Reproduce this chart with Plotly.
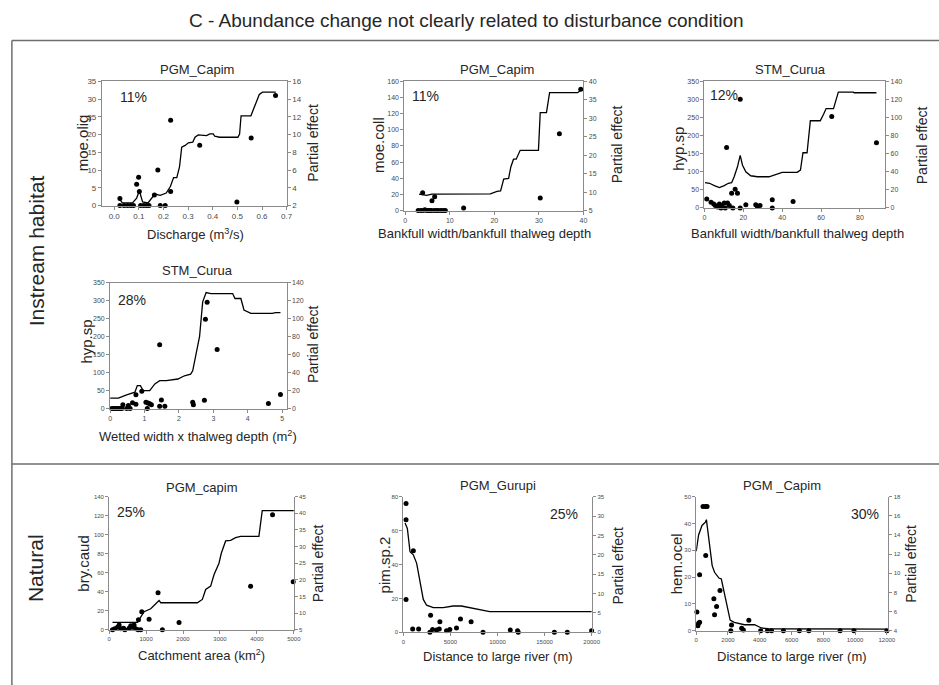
import plotly.graph_objects as go

W, H = 939, 685
FONT = "Liberation Sans, Arial, sans-serif"

# ---------------- data ----------------
# Panel 1: PGM_Capim, moe.olig vs discharge
p1_obs_x = [0.023, 0.023, 0.04, 0.054, 0.067, 0.078, 0.091, 0.099, 0.102, 0.107, 0.12, 0.131,
            0.141, 0.163, 0.177, 0.187, 0.207, 0.229, 0.229, 0.347, 0.498, 0.556, 0.655]
p1_obs_y = [2, 0, 0, 0, 0, 0, 6, 8, 4, 0, 0, 0, 0, 3, 10, 0, 0, 24, 4, 17, 1, 19, 31]
p1_pe_x = [0.023, 0.033, 0.074, 0.091, 0.102, 0.115, 0.137, 0.154, 0.165, 0.187, 0.211, 0.228,
           0.241, 0.254, 0.265, 0.274, 0.288, 0.301, 0.319, 0.328, 0.341, 0.375, 0.388, 0.402,
           0.408, 0.428, 0.502, 0.509, 0.515, 0.555, 0.576, 0.589, 0.602, 0.656]
p1_pe_y = [2.67, 2.30, 2.30, 2.85, 3.67, 2.41, 2.30, 2.85, 3.30, 3.15, 3.41, 4.15,
           5.15, 5.15, 6.37, 8.59, 8.78, 9.07, 9.15, 9.70, 9.96, 9.89, 10.07, 10.07,
           9.81, 9.70, 9.70, 10.07, 12.11, 12.11, 13.59, 14.52, 14.78, 14.78]

# Panel 2: PGM_Capim, moe.coll vs bankfull ratio
p2_obs_x = [3.9, 2.9, 3.5, 4.0, 4.4, 4.8, 5.2, 5.5, 5.9, 6.5, 7.0, 7.4, 8.0, 8.5, 9.0,
            6.0, 6.6, 13.1, 30.3, 34.6, 39.4]
p2_obs_y = [22, 0, 0, 0, 1, 0, 0, 0, 0, 0, 0, 0, 0, 0, 0,
            12, 17, 3, 15.5, 95, 150]
p2_pe_x = [3.1, 4.8, 6.0, 11.0, 19.1, 20.6, 21.4, 22.1, 23.2, 23.7, 24.3, 24.9, 25.8,
           29.9, 30.3, 31.7, 32.4, 38.7, 39.4]
p2_pe_y = [9.45, 9.1, 9.45, 9.5, 9.5, 10.2, 10.3, 13.5, 13.7, 16.8, 18.9, 18.9, 21.3,
           21.3, 31.5, 31.5, 36.9, 36.9, 37.6]

# Panel 3: STM_Curua, hyp.sp vs bankfull ratio
p3_obs_x = [1.2, 3.4, 4.8, 5.6, 6.8, 7.7, 8.5, 9.0, 10.2, 10.7, 11.9, 12.8, 14.0, 14.6,
            15.8, 17.0, 18.4, 21.3, 26.4, 27.2, 28.6, 34.9, 34.9, 45.6, 11.4, 18.4, 65.5, 88.5]
p3_obs_y = [24.5, 16, 11, 7, 3, 11, 0, 7, 14, 0, 14, 7, 41, 0,
            52, 41, 0, 9, 9, 4.5, 7, 23, 0, 18, 167, 300, 253, 180]
p3_pe_x = [0.3, 2.6, 5.1, 7.7, 10.2, 12.3, 14.0, 15.3, 17.0, 18.4, 19.6, 21.3, 23.8, 27.2,
           33.2, 35.7, 40.0, 47.7, 49.4, 50.7, 52.8, 54.5, 59.6, 61.3, 62.6, 66.4, 68.9,
           76.6, 77.1, 88.5]
p3_pe_y = [28, 27.3, 24.7, 22.5, 24.7, 27.3, 28, 34.5, 45.5, 58.2, 47.3, 40, 35.6, 34.5,
           34.5, 36.4, 39.3, 39.3, 41.8, 61, 61, 96.4, 96.4, 103.6, 109.8, 109.8, 128,
           128, 127.3, 127.3]

# Panel 4: STM_Curua, hyp.sp vs wetted width x thalweg depth
p4_obs_x = [0.05, 0.1, 0.15, 0.2, 0.25, 0.3, 0.34, 0.37, 0.48, 0.53, 0.58, 0.65, 0.75, 0.75,
            0.92, 1.04, 1.08, 1.1, 1.15, 1.2, 1.44, 1.49, 1.44, 1.59, 2.40, 2.42, 2.74,
            2.77, 2.82, 3.11, 4.6, 4.95]
p4_obs_y = [0, 0, 0, 0, 0, 0, 0, 11, 0, 9, 0, 16.5, 12, 38.5,
            48.5, 18, 0, 15.6, 13.7, 11, 6.4, 23.8, 178, 6.4, 18, 11, 23,
            249, 296, 165, 14.6, 39.4]
p4_pe_x = [0, 0.24, 0.48, 0.72, 0.79, 0.88, 0.96, 1.15, 1.3, 1.44, 1.63, 1.97, 2.16, 2.34,
           2.40, 2.6, 2.69, 2.79, 2.93, 3.56, 3.63, 3.80, 3.89, 4.09, 4.71, 4.81, 4.95]
p4_pe_y = [11.7, 11.7, 15.4, 18.3, 25.6, 25.6, 20.1, 20.1, 27.5, 31.1, 31.1, 33, 36.6, 38.5,
           42.1, 80.6, 119, 129.3, 128.2, 128.2, 122.7, 122.7, 109.9, 106.2, 106.2, 107, 107]

# Panel 5: PGM_capim, bry.caud vs catchment area
p5_obs_x = [90, 150, 225, 270, 315, 390, 425, 540, 585, 630, 675, 720, 785, 855,
            793, 883, 1081, 1324, 1441, 1892, 3829, 4423, 4982]
p5_obs_y = [0, 1, 2.5, 5, 1, 1.5, 0, 1.5, 4, 2.5, 5, 1, 0, 0,
            10.4, 19, 11, 38.8, 0, 7.6, 45.7, 121, 50.6]
p5_pe_x = [90, 766, 811, 946, 1126, 1261, 1351, 1396, 1757, 2387, 2523, 2613, 2748, 2838,
           2973, 3036, 3153, 3288, 3423, 3559, 4054, 4144, 5000]
p5_pe_y = [7.2, 7.2, 8.0, 10.4, 11.3, 12.9, 13.8, 13.1, 13.1, 13.1, 14.1, 17.1, 18.1, 21.5,
           25, 28, 31.7, 31.9, 32.7, 33.1, 33.1, 40.8, 40.8]

# Panel 6: PGM_Gurupi, pim.sp.2 vs distance to large river
p6_obs_x = [282, 282, 282, 1057, 987, 1621, 2890, 2820, 3100, 3525, 3807, 3877, 4582, 4935,
            5640, 6063, 7190, 8460, 11350, 12130, 12200, 16040, 17410, 19990]
p6_obs_y = [76, 66.4, 19.4, 48.2, 1.9, 1.9, 10.1, 0, 1.6, 1.4, 1.9, 6.2, 1, 1.6,
            2.5, 7.8, 6.2, 0, 1.4, 1, 0, 0, 0, 1]
p6_pe_x = [176, 423, 705, 1057, 1410, 1762, 2115, 2467, 3172, 4230, 5287, 6168, 7050, 8107,
           9165, 10930, 19990]
p6_pe_y = [28.2, 26.8, 20.8, 20, 17.8, 12.7, 8.5, 7, 6.4, 6.4, 6.8, 6.8, 6.4, 5.8,
           5.35, 5.35, 5.35]

# Panel 7: PGM _Capim, hem.ocel vs distance to large river
p7_obs_x = [43, 107, 150, 213, 213, 427, 577, 683, 598, 1110, 1153, 1281, 1495, 2221, 2178,
            2861, 2968, 3310, 4057, 4484, 4740, 5488, 6492, 7090, 9054, 9929, 12000]
p7_obs_y = [7, 1.8, 2.8, 3.1, 20.9, 46.4, 46.4, 46.4, 28.1, 11.9, 5.9, 9, 15, 2.1, 0,
            0.9, 0.2, 3.9, 0, 0, 0, 0, 0, 0, 0, 0, 0]
p7_pe_x = [0, 150, 363, 577, 641, 790, 1004, 1153, 1431, 1580, 1751, 1965, 2135, 2392,
           3032, 3673, 4100, 4527, 7303, 12000]
p7_pe_y = [12.3, 14, 15, 15.35, 15.6, 13.8, 10.8, 10.1, 9.5, 9.4, 8.1, 6.2, 5.1, 4.86,
           4.62, 4.62, 4.28, 4.2, 4.17, 4.17]

# Per-panel labels
titles = ["PGM_Capim", "PGM_Capim", "STM_Curua", "STM_Curua", "PGM_capim", "PGM_Gurupi", "PGM _Capim"]
species = ["moe.olig", "moe.coll", "hyp.sp", "hyp.sp", "bry.caud", "pim.sp.2", "hem.ocel"]
x_titles = ["Discharge (m<sup>3</sup>/s)", "Bankfull width/bankfull thalweg depth",
            "Bankfull width/bankfull thalweg depth", "Wetted width x thalweg depth (m<sup>2</sup>)",
            "Catchment area (km<sup>2</sup>)", "Distance to large river (m)",
            "Distance to large river (m)"]
deviance = ["11%", "11%", "12%", "28%", "25%", "25%", "30%"]
row_labels = ["Instream habitat", "Natural"]
main_title = "C - Abundance change not clearly related to disturbance condition"

# Axis scales: x range, x step, left range, left step, right range, right step
x_ranges = [[-0.05, 0.7], [-0.2, 40], [0, 93], [0, 5.13], [0, 5000], [0, 20070], [0, 12100]]
x_steps = [0.1, 10, 20, 1, 1000, 5000, 2000]
x_formats = [".1f", "d", "d", "d", "d", "d", "d"]
l_ranges = [[0, 35], [0, 160], [0, 350], [0, 350], [0, 140], [0, 80], [0, 50]]
l_steps = [5, 20, 50, 50, 20, 20, 10]
r_ranges = [[2, 16], [5, 40], [0, 140], [0, 140], [5, 45], [0, 35], [4, 18]]
r_steps = [2, 5, 20, 20, 5, 5, 2]

obs = [(p1_obs_x, p1_obs_y), (p2_obs_x, p2_obs_y), (p3_obs_x, p3_obs_y), (p4_obs_x, p4_obs_y),
       (p5_obs_x, p5_obs_y), (p6_obs_x, p6_obs_y), (p7_obs_x, p7_obs_y)]
effects = [(p1_pe_x, p1_pe_y), (p2_pe_x, p2_pe_y), (p3_pe_x, p3_pe_y), (p4_pe_x, p4_pe_y),
           (p5_pe_x, p5_pe_y), (p6_pe_x, p6_pe_y), (p7_pe_x, p7_pe_y)]

# ---------------- layout geometry (pixels) ----------------
# plot boxes: left, right, top, bottom
boxes = [(101, 287.7, 78.3, 204.3), (406.7, 587.7, 78.3, 209.3), (710, 892.7, 78.3, 206.7),
         (109.3, 287.7, 282.7, 410), (108.3, 295, 499.3, 634), (405.7, 596.7, 499.3, 636.7),
         (701.7, 896, 499.3, 635)]
title_pos = [(196.7, 66), (500, 66), (796.7, 66), (198, 270), (201.7, 490), (501.7, 488), (788, 488)]
ytitle_pos = [(81, 141), (380, 143), (683, 147), (85, 342), (82, 567), (387, 568), (682, 567)]
rtitle_pos = [(315, 141), (621.7, 142), (930, 143), (315, 345), (319, 567), (621.7, 569), (918, 567)]
xtitle_pos = [(196, 233), (488, 233), (804, 233), (198, 438), (201.7, 660), (501.7, 661), (798, 661)]
pct_pos = [(133.3, 94), (428.3, 93.3), (730, 92.7), (131.7, 300), (130, 515), (568.3, 516.7), (872.7, 516.7)]
tick_sizes = [8, 7, 7, 7, 6, 6, 6]


def px(x):
    return x / W


def py(y):
    return 1 - y / H


AX = "#8a8a8a"
TXT = "#262626"
TICK_TXT = "#4a4a4a"

fig = go.Figure()
layout = dict(width=W, height=H, margin=dict(l=0, r=0, t=0, b=0),
              paper_bgcolor="white", plot_bgcolor="white", showlegend=False,
              font=dict(family=FONT, color=TXT))
annotations = []
shapes = []

for i in range(7):
    n = i + 1
    xa = "x" if n == 1 else f"x{n}"
    yl_n, yr_n = 2 * i + 1, 2 * i + 2
    yl = "y" if yl_n == 1 else f"y{yl_n}"
    yr = f"y{yr_n}"
    l, r, t, b = boxes[i]
    top_row = i < 4

    fig.add_trace(go.Scatter(x=obs[i][0], y=obs[i][1], mode="markers", xaxis=xa, yaxis=yl,
                             marker=dict(color="black", size=5), cliponaxis=False))
    fig.add_trace(go.Scatter(x=effects[i][0], y=effects[i][1], mode="lines", xaxis=xa, yaxis=yr,
                             line=dict(color="black", width=1.3), cliponaxis=False))

    ts = tick_sizes[i]
    axis_common = dict(showgrid=False, zeroline=False, showline=True, linecolor=AX, linewidth=1,
                       ticks="outside", ticklen=3, tickcolor=AX,
                       tickfont=dict(size=ts, color=TICK_TXT))
    xkey = "xaxis" if n == 1 else f"xaxis{n}"
    layout[xkey] = dict(domain=[px(l), px(r)], anchor=yl, range=x_ranges[i], dtick=x_steps[i],
                        tick0=0, mirror=top_row, tickformat=x_formats[i], **axis_common)
    ylkey = "yaxis" if yl_n == 1 else f"yaxis{yl_n}"
    layout[ylkey] = dict(domain=[py(b), py(t)], anchor=xa, range=l_ranges[i], dtick=l_steps[i],
                         tick0=0, tickformat="d", **axis_common)
    layout[f"yaxis{yr_n}"] = dict(domain=[py(b), py(t)], anchor=xa, overlaying=yl, side="right",
                                  range=r_ranges[i], dtick=r_steps[i], tick0=r_ranges[i][0],
                                  tickformat="d", **axis_common)

    common = dict(xref="paper", yref="paper", showarrow=False, xanchor="center", yanchor="middle")
    annotations.append(dict(text=titles[i], x=px(title_pos[i][0]), y=py(title_pos[i][1]),
                            font=dict(size=13, color=TXT), **common))
    annotations.append(dict(text=species[i], x=px(ytitle_pos[i][0]), y=py(ytitle_pos[i][1]),
                            textangle=-90, font=dict(size=15, color=TXT), **common))
    annotations.append(dict(text="Partial effect", x=px(rtitle_pos[i][0]), y=py(rtitle_pos[i][1]),
                            textangle=-90, font=dict(size=14, color=TXT), **common))
    annotations.append(dict(text=x_titles[i], x=px(xtitle_pos[i][0]), y=py(xtitle_pos[i][1]),
                            font=dict(size=13, color=TXT), **common))
    annotations.append(dict(text=deviance[i], x=px(pct_pos[i][0]), y=py(pct_pos[i][1]),
                            font=dict(size=14, color=TXT), **common))

common = dict(xref="paper", yref="paper", showarrow=False, xanchor="center", yanchor="middle")
annotations.append(dict(text=main_title, x=px(470), y=py(17), font=dict(size=19, color=TXT), **common))
annotations.append(dict(text=row_labels[0], x=px(35), y=py(250), textangle=-90,
                        font=dict(size=21, color=TXT), **common))
annotations.append(dict(text=row_labels[1], x=px(34), y=py(572), textangle=-90,
                        font=dict(size=21, color=TXT), **common))

# outer frame and row separator
FR = "#6e6e6e"
shapes.append(dict(type="line", xref="paper", yref="paper", x0=px(10), x1=1.01, y0=py(37), y1=py(37),
                   line=dict(color=FR, width=1.5)))
shapes.append(dict(type="line", xref="paper", yref="paper", x0=px(10), x1=px(10), y0=py(37), y1=-0.01,
                   line=dict(color=FR, width=1.5)))
shapes.append(dict(type="line", xref="paper", yref="paper", x0=px(10), x1=1.01, y0=py(466), y1=py(466),
                   line=dict(color=FR, width=1.5)))

layout["annotations"] = annotations
layout["shapes"] = shapes
fig.update_layout(**layout)
fig.write_html("out.html")
